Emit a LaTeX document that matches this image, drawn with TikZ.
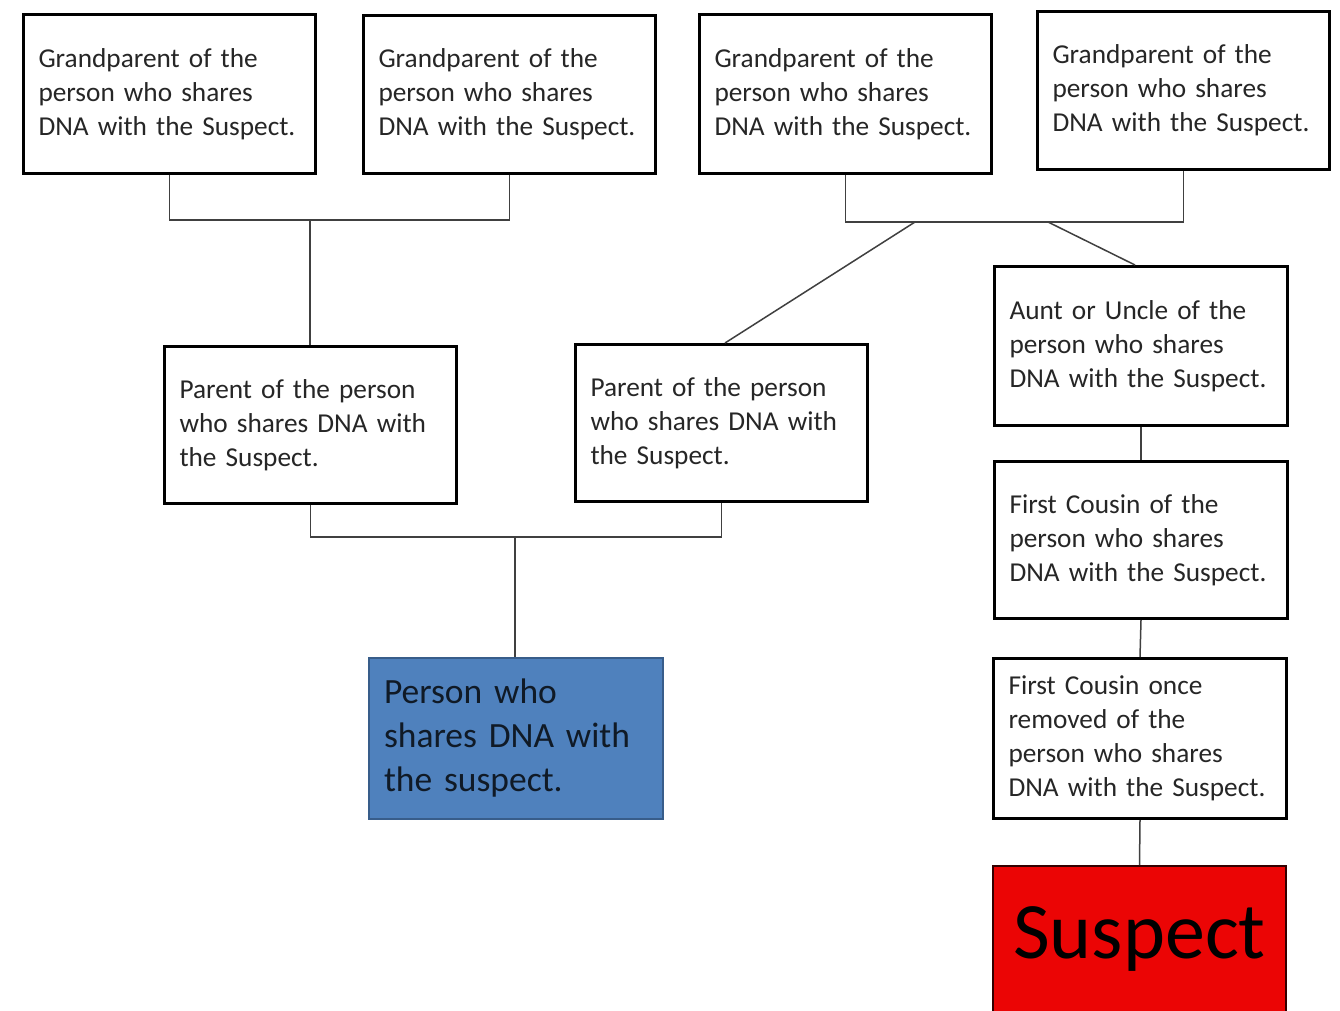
\documentclass[tikz,border=0pt]{standalone}
\usepackage{fontspec}
\setmainfont{Carlito}
\begin{document}
\begin{tikzpicture}[x=1pt,y=-1pt,
  box/.style={draw=black,line width=3pt,fill=white,rectangle,anchor=north west,
    minimum width=#1,align=left,inner xsep=15pt,inner ysep=0pt,text width=#1-30pt,
    font=\fontsize{27.3}{34}\selectfont,text=black!85},
  box/.default=292pt,
  link/.style={draw=black!75,line width=1.5pt},
]
\definecolor{dnablue}{RGB}{79,129,189}
\definecolor{dnablueedge}{RGB}{56,93,138}
\definecolor{suspectred}{RGB}{235,5,5}
\useasboundingbox (0,0) rectangle (1340,1010);
\fill[white] (0,0) rectangle (1340,1010);

% grandparents
\node[box,minimum height=159pt] (gp1) at (22,13) {Grandparent of the\\person who shares\\DNA with the Suspect.};
\node[box,minimum height=158pt] (gp2) at (362,14) {Grandparent of the\\person who shares\\DNA with the Suspect.};
\node[box,minimum height=159pt] (gp3) at (698,13) {Grandparent of the\\person who shares\\DNA with the Suspect.};
\node[box,minimum height=158pt] (gp4) at (1036,10) {Grandparent of the\\person who shares\\DNA with the Suspect.};

% parents and the side branch
\node[box,minimum height=157pt] (p1) at (163,345) {Parent of the person\\who shares DNA with\\the Suspect.};
\node[box,minimum height=157pt] (p2) at (574,343) {Parent of the person\\who shares DNA with\\the Suspect.};
\node[box=293pt,minimum height=159pt] (aunt) at (993,265) {Aunt or Uncle of the\\person who shares\\DNA with the Suspect.};
\node[box=293pt,minimum height=157pt] (cous) at (993,460) {First Cousin of the\\person who shares\\DNA with the Suspect.};
\node[box=293pt,minimum height=160pt] (rem) at (992,657) {First Cousin once\\removed of the\\person who shares\\DNA with the Suspect.};

% the two people at the ends
\node[box=294pt,minimum height=161pt,fill=dnablue,draw=dnablueedge,line width=2pt,
  font=\fontsize{35.5}{44}\selectfont,text=black!80!dnablue] (person) at (368,657)
  {Person who\\shares DNA with\\the suspect.};
\node[draw=black!80!red,line width=2pt,fill=suspectred,anchor=north west,
  minimum width=293pt,minimum height=146pt,inner sep=0pt,
  font=\fontsize{80}{84}\selectfont,text=black] (sus) at (992,865) {Suspect};

% junction points
\coordinate (ja) at (310,220);
\coordinate (jb1) at (915,222);
\coordinate (jb2) at (1048,222);
\coordinate (jc) at (515,537);

% connectors
\draw[link] (gp1.south) |- (ja) -| (gp2.south);
\draw[link] (ja) -- (ja |- p1.north);
\draw[link] (gp3.south) |- (jb1) -- (jb2) -| (gp4.south);
\draw[link] (jb1) -- (725,343);
\draw[link] (jb2) -- (1135,265);
\draw[link] (p1.south) |- (jc) -| (p2.south);
\draw[link] (jc) -- (jc |- person.north);
\draw[link] (aunt.south) -- (cous.north);
\draw[link] (cous.south) -- (rem.north);
\draw[link] (rem.south) -- (sus.north);
\end{tikzpicture}
\end{document}
